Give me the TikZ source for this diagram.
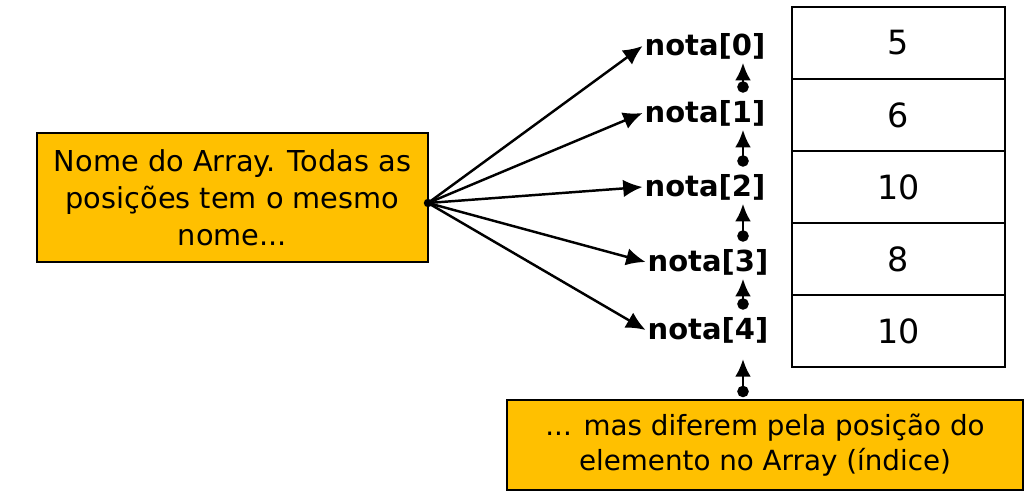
\documentclass[tikz,border=0pt]{standalone}
\usepackage{fontspec}
\setmainfont{DejaVu Sans}
\usetikzlibrary{arrows.meta}
\definecolor{laranja}{HTML}{FFC000}
\begin{document}
\begin{tikzpicture}[x=0.02cm,y=-0.02cm,
  caixa/.style={draw,line width=1.2pt,fill=laranja,align=center,inner sep=0pt},
  nota/.style={inner sep=1pt,font=\bfseries\fontsize{16.5}{20}\selectfont},
  celula/.style={draw,line width=0.8pt,minimum width=4.26cm,minimum height=1.44cm,font=\fontsize{19}{22}\selectfont},
  seta/.style={line width=1.4pt,-{Latex[length=11pt,width=10pt]}},
  indice/.style={line width=1.5pt,{Circle[length=6.5pt]}-{Latex[length=10pt,width=9pt]}}]
\useasboundingbox (0,0) rectangle (1032,493);
% caixas de texto
\node[caixa,minimum width=7.82cm,minimum height=2.58cm,font=\fontsize{16.4}{21}\selectfont](nome) at (232.5,197.5){Nome do Array. Todas as\\posições tem o mesmo\\nome...};
\node[caixa,minimum width=10.32cm,minimum height=1.8cm,font=\fontsize{15.8}{20}\selectfont](posicao) at (765,445){... mas diferem pela posição do\\elemento no Array (índice)};
% o vetor
\foreach \v [count=\i from 0] in {5,6,10,8,10}
  \node[celula](c\i) at (898.5,43+72*\i){\v};
% os nomes
\node[nota](n0) at (705,46){nota[0]};
\node[nota](n1) at (705,113){nota[1]};
\node[nota](n2) at (705,187){nota[2]};
\node[nota](n3) at (708,262){nota[3]};
\node[nota](n4) at (708,330){nota[4]};
\coordinate (fonte) at (428,203);
\coordinate (eixo) at (743,0);
\foreach \i in {0,...,4}
  \draw[seta](fonte)--(n\i.west);
\fill (fonte) circle (2.4pt);
\foreach \i [count=\j from 0] in {1,...,4}
  \draw[indice,shorten <=3pt,shorten >=1pt](n\i.north -| eixo)--(n\j.south -| eixo);
\draw[indice,shorten <=1pt,shorten >=8pt](posicao.north -| eixo)--(n4.south -| eixo);
\end{tikzpicture}
\end{document}
